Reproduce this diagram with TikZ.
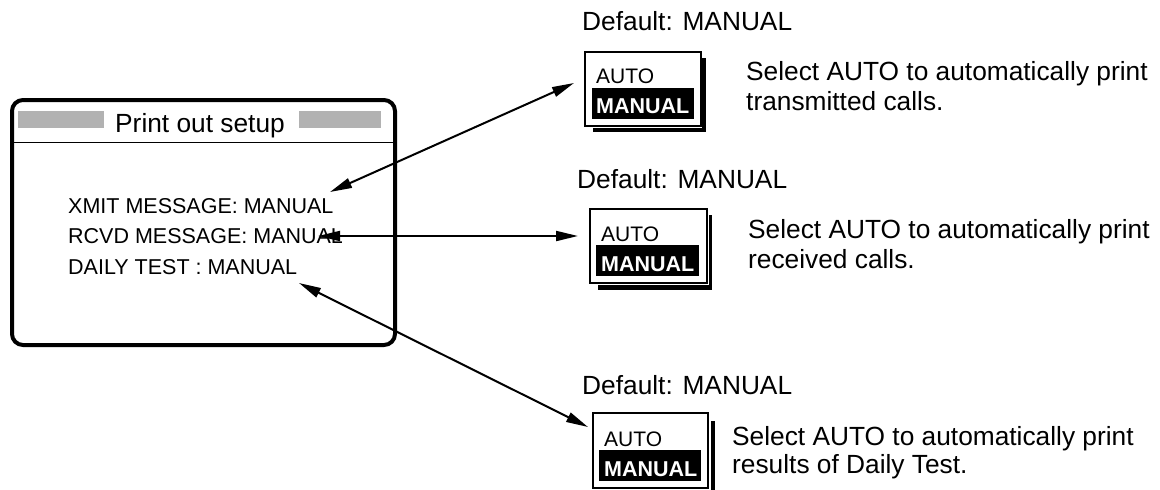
\documentclass[tikz,border=0pt]{standalone}
\usepackage{fontspec}
\setmainfont{Liberation Sans}
\usetikzlibrary{arrows.meta}
\tikzset{
  body/.style={anchor=base west, inner sep=0pt, font=\fontsize{21.5}{25}\selectfont},
  big/.style={anchor=base west, inner sep=0pt, font=\fontsize{26.3}{30}\selectfont},
  opt/.style={anchor=base west, inner sep=0pt, font=\fontsize{21}{24}\selectfont},
  optsel/.style={anchor=base west, inner sep=0pt, text=white, font=\bfseries\fontsize{21.5}{24}\selectfont},
  link/.style={line width=2pt, {Triangle[length=22pt,width=10pt]}-{Triangle[length=22pt,width=10pt]}},
}
\begin{document}
\begin{tikzpicture}[x=1pt,y=-1pt]
\useasboundingbox (0,0) rectangle (1160,490);
% main window
\draw[line width=4pt, rounded corners=11pt] (12,100) rectangle (395,345);
\draw[line width=1pt] (12,142) -- (395,142);
\fill[gray!60] (18,111) rectangle (104,128);
\fill[gray!60] (299,111) rectangle (381,128);
\node[big, anchor=base] (title) at (200,132) {Print out setup};
\node[body] (xmit) at (68,213) {XMIT MESSAGE: MANUAL};
\node[body] (rcvd) at (68,243) {RCVD MESSAGE: MANUAL};
\node[body] (daily) at (68,274) {DAILY TEST : MANUAL};
% box 1 (L=585,R=701,T=52,B=126)
\node[big] (d1) at (582,30) {Default: MANUAL};
\fill (593,58) rectangle (706,132);
\fill[white] (584,51) rectangle (702,127.5);
\draw[line width=1.2pt] (585,52) rectangle (701,126);
\node[opt] (a1) at (596,83) {AUTO};
\fill (592,88) rectangle (694,119);
\node[optsel] (m1) at (596,113) {MANUAL};
\node[big] (s1) at (746,80) {Select AUTO to automatically print};
\node[big] (t1) at (746,110) {transmitted calls.};
% box 2 (L=590,R=707,T=209,B=283)
\node[big] (d2) at (577,188) {Default: MANUAL};
\fill (598,215) rectangle (712,290);
\fill[white] (589,208) rectangle (708.5,284.5);
\draw[line width=1.2pt] (590,209) rectangle (707,283);
\node[opt] (a2) at (601,241) {AUTO};
\fill (596,245) rectangle (699,276);
\node[optsel] (m2) at (601,271) {MANUAL};
\node[big] (s2) at (748,238) {Select AUTO to automatically print};
\node[big] (t2) at (748,268) {received calls.};
% box 3 (L=593,R=708,T=413,B=488)
\node[big] (d3) at (582,394) {Default: MANUAL};
\fill (601,421) rectangle (715,496);
\fill[white] (592,412) rectangle (711,489.5);
\draw[line width=1.2pt] (593,413) rectangle (708,488);
\node[opt] (a3) at (604,446) {AUTO};
\fill (599,450) rectangle (701,481);
\node[optsel] (m3) at (604,476) {MANUAL};
\node[big] (s3) at (732,445) {Select AUTO to automatically print};
\node[big] (t3) at (732,473) {results of Daily Test.};
% connectors
\coordinate (p1) at (330,192);
\coordinate (q1) at (574,83);
\coordinate (p2) at (318,236);
\coordinate (q2) at (578,236);
\coordinate (p3) at (299,283);
\coordinate (q3) at (588,427);
\draw[link] (p1) -- (q1);
\draw[link] (p2) -- (q2);
\draw[link] (p3) -- (q3);
\end{tikzpicture}
\end{document}
